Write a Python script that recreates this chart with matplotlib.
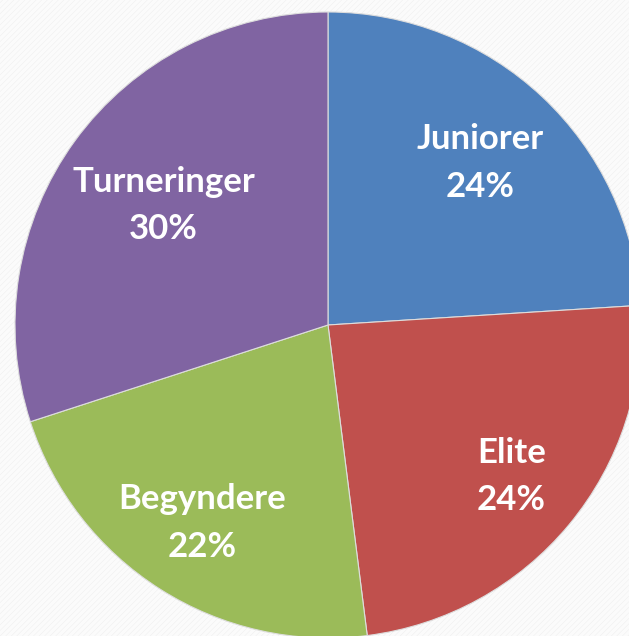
import matplotlib
matplotlib.use('Agg')
from matplotlib import pyplot as plt
from matplotlib.patches import Rectangle
import numpy as np

categories = ['Juniorer', 'Elite', 'Begyndere', 'Turneringer']
values = [24, 24, 22, 30]
colors = ['#4F81BD', '#C0504D', '#9BBB59', '#8064A2']
label_dist = [0.71, 0.76, 0.75, 0.65]

plt.rcParams['hatch.linewidth'] = 2.5
fig = plt.figure(figsize=(6.29, 6.36), dpi=100)

# hatched light background
bg = Rectangle((0, 0), 1, 1, transform=fig.transFigure, facecolor='#ededed',
               edgecolor='#fbfbfb', hatch='//////', linewidth=0, zorder=-10)
fig.patches.append(bg)

ax = fig.add_axes([15 / 629, -2 / 636, 626 / 629, 626 / 636])
ax.axis('off')

wedges, _ = ax.pie(values, colors=colors, startangle=90, counterclock=False,
                   radius=1, center=(0, 0), frame=False,
                   wedgeprops={'edgecolor': '#dddddd', 'linewidth': 0.8})
ax.set_xlim(-1, 1)
ax.set_ylim(-1, 1)
ax.set_aspect('equal')

for w, cat, v, d in zip(wedges, categories, values, label_dist):
    ang = np.deg2rad((w.theta1 + w.theta2) / 2)
    ax.text(d * np.cos(ang), d * np.sin(ang), f'{cat}\n{v}%', ha='center', va='center',
            color='white', fontsize=25, fontweight='bold', family='Lato', linespacing=1.6)

fig.savefig('out.png', dpi=100)
